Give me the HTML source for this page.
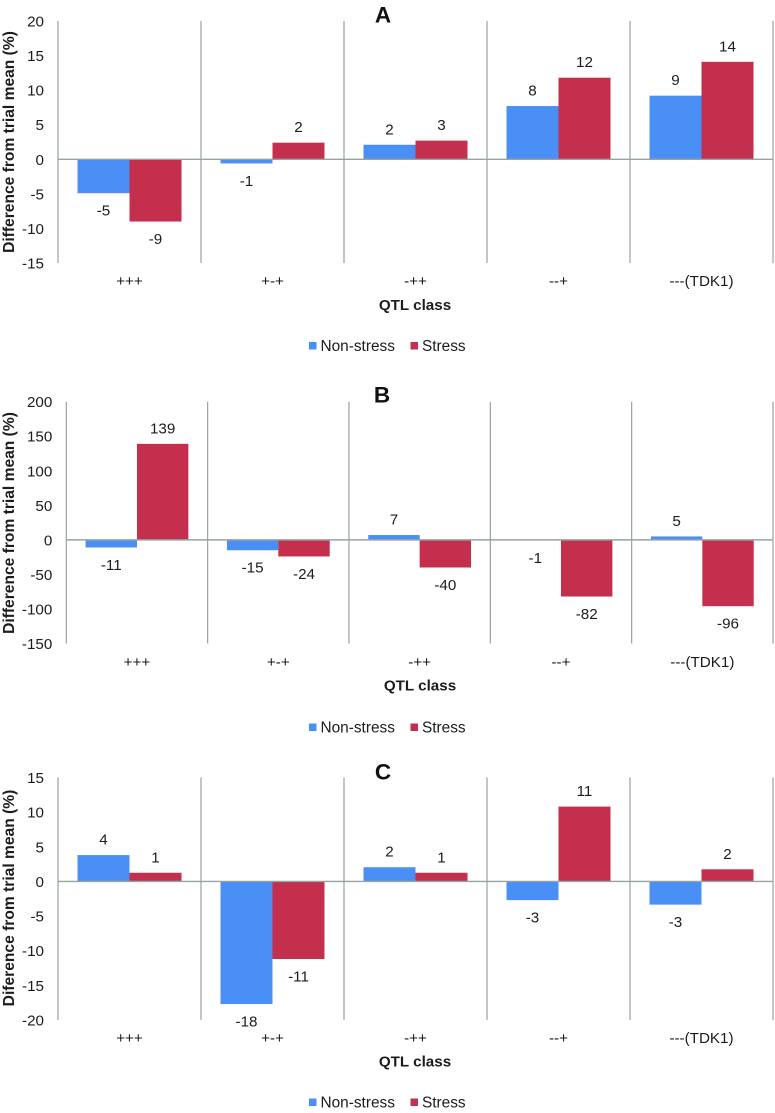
<!DOCTYPE html>
<html lang="en">
<head>
<meta charset="utf-8">
<title>Difference from trial mean by QTL class</title>
<style>
html,body{margin:0;padding:0;background:#fff;width:775px;height:1113px;overflow:hidden}
svg{display:block}
text{font-family:"Liberation Sans",Arial,sans-serif;fill:#1c1c1c}
.tick,.cat,.val{font-size:15.2px}
.leg{font-size:15.4px}
.ytitle{font-size:15.6px;font-weight:bold}
.xtitle{font-size:15.2px;font-weight:bold}
.panel{font-size:22.5px;font-weight:bold;fill:#111}
</style>
</head>
<body>
<svg id="chart" xmlns="http://www.w3.org/2000/svg" width="775" height="1113" viewBox="0 0 775 1113"></svg>
<script>
const categories = ["+++", "+-+", "-++", "--+", "---(TDK1)"];
const seriesNames = ["Non-stress", "Stress"];

const aNonStress = [-4.9, -0.6, 2.1, 7.7, 9.2];
const aStress = [-9, 2.4, 2.7, 11.8, 14.1];
const aNonStressLabels = ["-5", "-1", "2", "8", "9"];
const aStressLabels = ["-9", "2", "3", "12", "14"];
const aTicks = [20, 15, 10, 5, 0, -5, -10, -15];

const bNonStress = [-11, -15, 7, -0.6, 5];
const bStress = [139, -24, -40, -82, -96];
const bNonStressLabels = ["-11", "-15", "7", "-1", "5"];
const bStressLabels = ["139", "-24", "-40", "-82", "-96"];
const bTicks = [200, 150, 100, 50, 0, -50, -100, -150];

const cNonStress = [3.8, -17.7, 2.05, -2.7, -3.35];
const cStress = [1.25, -11.2, 1.25, 10.8, 1.75];
const cNonStressLabels = ["4", "-18", "2", "-3", "-3"];
const cStressLabels = ["1", "-11", "1", "11", "2"];
const cTicks = [15, 10, 5, 0, -5, -10, -15, -20];

const svg = document.getElementById('chart');
const NS = 'http://www.w3.org/2000/svg';
const BLUE = '#4a8ff6';
const RED = '#c32f4c';
const AXIS = '#97a3a1';

function make(tag, attrs, text) {
  const el = document.createElementNS(NS, tag);
  for (const k in attrs) el.setAttribute(k, attrs[k]);
  if (text !== undefined) el.textContent = text;
  return el;
}

function drawPanel(p) {
  const g = make('g', {});
  
  
  svg.appendChild(g);

  const maxV = p.ticks[0];
  const minV = p.ticks[p.ticks.length - 1];
  const y = v => p.top + (maxV - v) / (maxV - minV) * (p.bottom - p.top);
  const groupW = (p.right - p.left) / categories.length;
  const x = i => p.left + i * groupW;
  const barW = groupW * 0.3636;
  const barOff = groupW * 0.1364;

  const series = [
    { name: seriesNames[0], values: p.nonStress, labels: p.nonStressLabels, color: BLUE },
    { name: seriesNames[1], values: p.stress, labels: p.stressLabels, color: RED }
  ];

  series.forEach((s, si) => {
    s.values.forEach((v, i) => {
      const bx = x(i) + barOff + si * barW;
      const y0 = y(0), y1 = y(v);
      const bar = make('rect', {
        x: bx, y: Math.min(y0, y1), width: barW, height: Math.abs(y1 - y0), fill: s.color
      });
      
      
      g.appendChild(bar);
      const ly = v >= 0 ? y1 - 16 : y1 + 17;
      const lab = make('text', {
        class: 'val', x: bx + barW / 2, y: ly + 5.5, 'text-anchor': 'middle'
      }, s.labels[i]);
      
      
      g.appendChild(lab);
    });
  });

  for (let i = 0; i <= categories.length; i++) {
    const line = make('line', {
      x1: x(i), x2: x(i), y1: p.top, y2: p.bottom, stroke: AXIS, 'stroke-width': 1.2
    });
    
    
    g.appendChild(line);
  }
  const zero = make('line', {
    x1: p.left, x2: p.right, y1: y(0), y2: y(0), stroke: AXIS, 'stroke-width': 1.4
  });
  
  
  g.appendChild(zero);

  p.ticks.forEach(t => {
    const tk = make('text', {
      class: 'tick', x: p.left - 14, y: y(t) + 5.5, 'text-anchor': 'end'
    }, String(t));
    
    
    g.appendChild(tk);
  });

  categories.forEach((c, i) => {
    const ct = make('text', {
      class: 'cat', x: x(i) + groupW / 2, y: p.catY + 5, 'text-anchor': 'middle'
    }, c);
    
    
    g.appendChild(ct);
  });

  const yt = make('text', {
    class: 'ytitle', 'text-anchor': 'middle',
    transform: 'translate(14,' + p.yTitleY + ') rotate(-90)'
  }, p.yTitle);
  
  
  g.appendChild(yt);

  const xt = make('text', {
    class: 'xtitle', x: p.xTitleX, y: p.xTitleY + 5, 'text-anchor': 'middle'
  }, 'QTL class');
  
  
  g.appendChild(xt);

  const pl = make('text', {
    class: 'panel', x: p.letterX, y: p.letterY + 7.5, 'text-anchor': 'middle'
  }, p.letter);
  
  
  g.appendChild(pl);

  const legendX = [p.legendX, p.legendX + 101.5];
  series.forEach((s, si) => {
    const sw = make('rect', {
      x: legendX[si], y: p.legendY - 3.5, width: 7.5, height: 7.5, fill: s.color
    });
    
    
    g.appendChild(sw);
    const lt = make('text', {
      class: 'leg', x: legendX[si] + 11.5, y: p.legendY + 5.5
    }, s.name);
    
    
    g.appendChild(lt);
  });
}

drawPanel({
  letter: 'A', letterX: 383, letterY: 15,
  left: 58, right: 773, top: 21, bottom: 263,
  ticks: aTicks, nonStress: aNonStress, stress: aStress,
  nonStressLabels: aNonStressLabels, stressLabels: aStressLabels,
  catY: 281, xTitleX: 415, xTitleY: 305,
  yTitle: 'Difference from trial mean (%)', yTitleY: 142,
  legendX: 309, legendY: 345.5
});
drawPanel({
  letter: 'B', letterX: 382, letterY: 395,
  left: 66.3, right: 773, top: 401.7, bottom: 643.5,
  ticks: bTicks, nonStress: bNonStress, stress: bStress,
  nonStressLabels: bNonStressLabels, stressLabels: bStressLabels,
  catY: 662, xTitleX: 420, xTitleY: 685.5,
  yTitle: 'Difference from trial mean (%)', yTitleY: 523,
  legendX: 309, legendY: 727
});
drawPanel({
  letter: 'C', letterX: 383, letterY: 772,
  left: 58, right: 773, top: 777.5, bottom: 1020,
  ticks: cTicks, nonStress: cNonStress, stress: cStress,
  nonStressLabels: cNonStressLabels, stressLabels: cStressLabels,
  catY: 1038, xTitleX: 415, xTitleY: 1061.5,
  yTitle: 'Diference from trial mean (%)', yTitleY: 898,
  legendX: 309, legendY: 1102
});
</script>
</body>
</html>
